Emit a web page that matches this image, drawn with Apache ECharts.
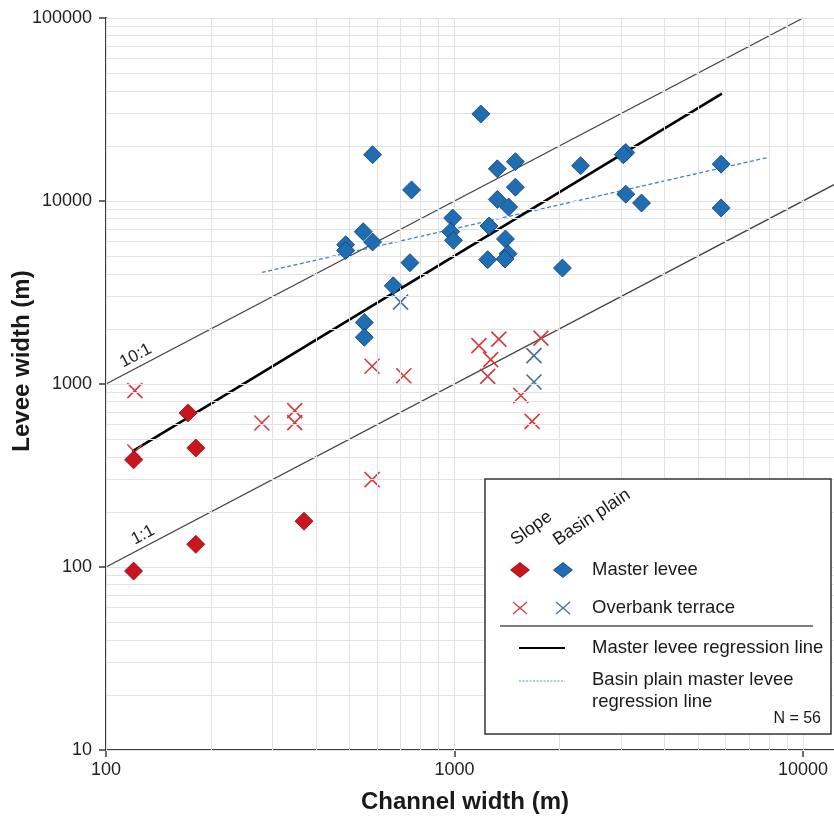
<!DOCTYPE html>
<html>
<head>
<meta charset="utf-8">
<script src="https://cdn.jsdelivr.net/npm/echarts@6/dist/echarts.min.js"></script>
<style>
html,body{margin:0;padding:0;background:#fff;}
#chart{width:834px;height:819px;}
</style>
</head>
<body>
<div id="chart"></div>
<script>
// ---- data ----
const xTicks = [100, 1000, 10000];
const yTicks = [10, 100, 1000, 10000, 100000];
const gridMultipliers = [1, 2, 3, 4, 5, 6, 7, 8, 9];

const slopeMasterX = [120, 172, 181, 181, 120, 370];
const slopeMasterY = [385, 695, 447, 133, 95, 178];

const slopeTerraceX = [121, 121, 280, 348, 348, 580, 715, 580, 1175, 1340, 1270, 1245, 1770, 1550, 1670];
const slopeTerraceY = [920, 425, 612, 715, 615, 1250, 1110, 300, 1620, 1760, 1360, 1100, 1780, 865, 625];

const basinTerraceX = [700, 1690, 1690];
const basinTerraceY = [2800, 1430, 1025];

const basinMasterX = [1190, 582, 753, 1327, 1495, 1495, 1327, 1430, 988, 975, 993, 1256, 1400, 1424, 1396, 1245, 745, 667, 547, 582, 487, 487, 2300, 3100, 3050, 3100, 3440, 5820, 5820, 2040, 551, 551];
const basinMasterY = [29900, 17900, 11500, 15000, 16400, 11900, 10200, 9270, 8070, 6800, 6100, 7300, 6200, 5150, 4820, 4780, 4600, 3440, 6800, 5970, 5770, 5370, 15600, 18400, 17900, 10900, 9750, 15900, 9160, 4300, 2170, 1800];

const masterRegX = [119, 5850];
const masterRegY = [428, 38600];
const basinRegX = [280, 8035];
const basinRegY = [4070, 17400];

const ratio10X = [100, 10000];
const ratio10Y = [1000, 100000];
const X_MIN = 100, X_MAX = 12270, Y_MIN = 10, Y_MAX = 100000;
const ratio1X = [100, X_MAX];
const ratio1Y = [100, X_MAX];

// ---- helpers ----
const zip = (xs, ys) => xs.map((x, i) => [x, ys[i]]);
function gridValues(lo, hi) {
  const out = [];
  for (let d = 1; d <= 1e6; d *= 10) {
    gridMultipliers.forEach(m => { const v = m * d; if (v >= lo && v <= hi) out.push(v); });
  }
  return out;
}
const gridLineData = [];
gridValues(X_MIN, X_MAX).forEach(v => gridLineData.push([{coord: [v, Y_MIN]}, {coord: [v, Y_MAX]}]));
gridValues(Y_MIN, Y_MAX).forEach(v => gridLineData.push([{coord: [X_MIN, v]}, {coord: [X_MAX, v]}]));

const FONT = '"Liberation Sans", Arial, sans-serif';
const XPATH = 'path://M0,0L10,10M10,0L0,10';
const RED = '#c9151c', RED_B = '#7d0b10';
const BLUE = '#1f6db3', BLUE_B = '#0e3b6b';
const RED_X = '#d63a3d', BLUE_X = '#45709e';

const chart = echarts.init(document.getElementById('chart'), null, {renderer: 'canvas'});

const option = {
  animation: false,
  backgroundColor: '#fff',
  grid: {left: 106, right: 0, top: 18, bottom: 69, containLabel: false, outerBoundsMode: 'none'},
  xAxis: {
    type: 'log', logBase: 10, min: X_MIN, max: X_MAX,
    name: 'Channel width (m)', nameLocation: 'middle', nameGap: 40, nameMoveOverlap: false,
    nameTextStyle: {fontFamily: FONT, fontSize: 24, fontWeight: 'bold', color: '#1a1a1a', padding: [0, 10, 0, 0]},
    axisLine: {show: true, lineStyle: {color: '#3a3a3a', width: 2}},
    axisTick: {show: true, length: 7, inside: false, customValues: xTicks, lineStyle: {color: '#3a3a3a', width: 1.5}},
    axisLabel: {show: true, customValues: xTicks, fontFamily: FONT, fontSize: 18, color: '#222', margin: 11,
      formatter: v => String(Math.round(v))},
    splitLine: {show: false}, minorTick: {show: false}, minorSplitLine: {show: false}
  },
  yAxis: {
    type: 'log', logBase: 10, min: Y_MIN, max: Y_MAX,
    name: 'Levee width (m)', nameLocation: 'middle', nameGap: 72, nameRotate: 90, nameMoveOverlap: false,
    nameTextStyle: {fontFamily: FONT, fontSize: 24, fontWeight: 'bold', color: '#1a1a1a', padding: [0, 0, 0, 46]},
    axisLine: {show: true, lineStyle: {color: '#3a3a3a', width: 2}},
    axisTick: {show: true, length: 7, inside: false, customValues: yTicks, lineStyle: {color: '#3a3a3a', width: 1.5}},
    axisLabel: {show: true, customValues: yTicks, fontFamily: FONT, fontSize: 18, color: '#222', margin: 14,
      formatter: v => String(Math.round(v))},
    splitLine: {show: false}, minorTick: {show: false}, minorSplitLine: {show: false}
  },
  series: [
    {
      type: 'line', data: [], silent: true, z: 0,
      markLine: {silent: true, symbol: ['none', 'none'], animation: false,
        label: {show: false}, lineStyle: {color: '#e1e1e1', width: 1, type: 'solid'},
        emphasis: {disabled: true}, data: gridLineData}
    },
    {type: 'line', data: zip(ratio10X, ratio10Y), symbol: 'none', silent: true, z: 2,
      lineStyle: {color: '#444', width: 1.4}},
    {type: 'line', data: zip(ratio1X, ratio1Y), symbol: 'none', silent: true, z: 2,
      lineStyle: {color: '#444', width: 1.4}},
    {type: 'line', data: zip(basinRegX, basinRegY), symbol: 'none', silent: true, z: 3,
      lineStyle: {color: '#4082c4', width: 1.3, type: [4, 2.5]}},
    {type: 'line', data: zip(masterRegX, masterRegY), symbol: 'none', silent: true, z: 3,
      lineStyle: {color: '#000', width: 2.6}},
    {type: 'scatter', data: zip(slopeTerraceX, slopeTerraceY), symbol: XPATH, symbolSize: 15, z: 4,
      itemStyle: {color: 'rgba(0,0,0,0)', borderColor: RED_X, borderWidth: 1.6, opacity: 1}},
    {type: 'scatter', data: zip(basinTerraceX, basinTerraceY), symbol: XPATH, symbolSize: 15, z: 4,
      itemStyle: {color: 'rgba(0,0,0,0)', borderColor: BLUE_X, borderWidth: 1.6, opacity: 1}},
    {type: 'scatter', data: zip(slopeMasterX, slopeMasterY), symbol: 'diamond', symbolSize: 18, z: 5,
      itemStyle: {color: RED, borderColor: RED_B, borderWidth: 0.8, opacity: 1}},
    {type: 'scatter', data: zip(basinMasterX, basinMasterY), symbol: 'diamond', symbolSize: 18, z: 5,
      itemStyle: {color: BLUE, borderColor: BLUE_B, borderWidth: 0.8, opacity: 1}}
  ]
};
chart.setOption(option);

// ---- annotations & legend (graphic) ----
const pa = chart.convertToPixel({gridIndex: 0}, [100, 100]);
const pb = chart.convertToPixel({gridIndex: 0}, [1000, 1000]);
const ang = Math.atan2(pa[1] - pb[1], pb[0] - pa[0]);
const p10 = chart.convertToPixel({gridIndex: 0}, [125, 1250]);
const p1 = chart.convertToPixel({gridIndex: 0}, [131, 131]);
const labFont = {fontFamily: FONT, fontSize: 17, fill: '#222', align: 'center', verticalAlign: 'bottom'};

const LX = 485, LY = 479;
const legendFont = {fontFamily: FONT, fontSize: 18.5, fill: '#1a1a1a', verticalAlign: 'middle', align: 'left'};
function diamond(cx, cy, w, h, fill, stroke) {
  return {type: 'polygon', shape: {points: [[cx, cy - h / 2], [cx + w / 2, cy], [cx, cy + h / 2], [cx - w / 2, cy]]},
    style: {fill: fill, stroke: stroke, lineWidth: 0.8}, z: 100};
}
function cross(cx, cy, s, color) {
  return [
    {type: 'line', z: 100, shape: {x1: cx - s / 2, y1: cy - s * 0.42, x2: cx + s / 2, y2: cy + s * 0.42}, style: {stroke: color, lineWidth: 1.3}},
    {type: 'line', z: 100, shape: {x1: cx - s / 2, y1: cy + s * 0.42, x2: cx + s / 2, y2: cy - s * 0.42}, style: {stroke: color, lineWidth: 1.3}}
  ];
}

const elements = [
  {type: 'text', x: p10[0], y: p10[1] - 3, rotation: ang, z: 50, style: Object.assign({text: '10:1'}, labFont)},
  {type: 'text', x: p1[0], y: p1[1] - 3, rotation: ang, z: 50, style: Object.assign({text: '1:1'}, labFont)},
  {type: 'rect', shape: {x: LX, y: LY, width: 346, height: 255}, style: {fill: '#fff', stroke: '#333', lineWidth: 1.5}, z: 90},
  {type: 'text', x: 518, y: 549, rotation: 0.62, z: 100,
    style: {text: 'Slope', fontFamily: FONT, fontSize: 18, fill: '#1a1a1a', align: 'left', verticalAlign: 'bottom'}},
  {type: 'text', x: 560, y: 549, rotation: 0.58, z: 100,
    style: {text: 'Basin plain', fontFamily: FONT, fontSize: 18, fill: '#1a1a1a', align: 'left', verticalAlign: 'bottom'}},
  diamond(520, 570, 19, 15, RED, RED_B),
  diamond(563, 570, 19, 15, BLUE, BLUE_B),
  {type: 'text', x: 592, y: 570, z: 100, style: Object.assign({text: 'Master levee'}, legendFont)},
  ...cross(520, 608, 14, RED_X),
  ...cross(563, 608, 14, BLUE_X),
  {type: 'text', x: 592, y: 608, z: 100, style: Object.assign({text: 'Overbank terrace'}, legendFont)},
  {type: 'line', shape: {x1: 500, y1: 626, x2: 813, y2: 626}, style: {stroke: '#555', lineWidth: 1.3}, z: 100},
  {type: 'line', shape: {x1: 519, y1: 648, x2: 565, y2: 648}, style: {stroke: '#000', lineWidth: 2}, z: 100},
  {type: 'text', x: 592, y: 648, z: 100, style: Object.assign({text: 'Master levee regression line'}, legendFont)},
  {type: 'line', shape: {x1: 519, y1: 681, x2: 565, y2: 681}, style: {stroke: '#5a90c8', lineWidth: 1, lineDash: [2, 1.5]}, z: 100},
  {type: 'text', x: 592, y: 680, z: 100, style: Object.assign({text: 'Basin plain master levee'}, legendFont)},
  {type: 'text', x: 592, y: 702, z: 100, style: Object.assign({text: 'regression line'}, legendFont)},
  {type: 'text', x: 821, y: 719, z: 100,
    style: {text: 'N = 56', fontFamily: FONT, fontSize: 16, fill: '#1a1a1a', align: 'right', verticalAlign: 'middle'}}
];
chart.setOption({graphic: elements});
</script>
</body>
</html>
